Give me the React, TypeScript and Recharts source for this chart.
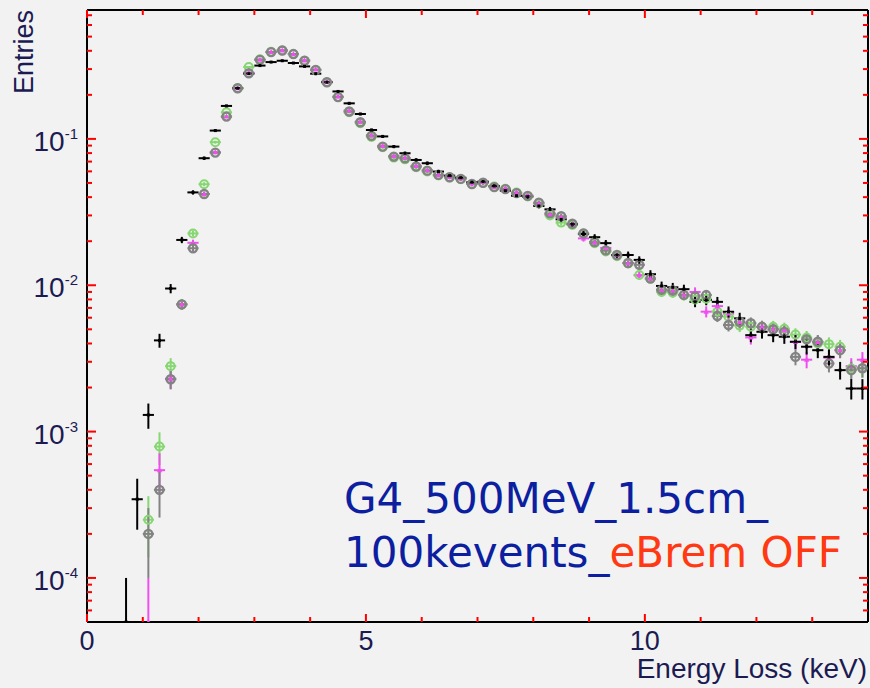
import React from "react";
import { ScatterChart, Scatter, XAxis, YAxis, ErrorBar } from "recharts";

// bin centres (keV), bin width 0.2
const BINS = [
  0.7, 0.9, 1.1, 1.3, 1.5, 1.7, 1.9, 2.1, 2.3, 2.5, 2.7, 2.9, 3.1, 3.3, 3.5,
  3.7, 3.9, 4.1, 4.3, 4.5, 4.7, 4.9, 5.1, 5.3, 5.5, 5.7, 5.9, 6.1, 6.3, 6.5,
  6.7, 6.9, 7.1, 7.3, 7.5, 7.7, 7.9, 8.1, 8.3, 8.5, 8.7, 8.9, 9.1, 9.3, 9.5,
  9.7, 9.9, 10.1, 10.3, 10.5, 10.7, 10.9, 11.1, 11.3, 11.5, 11.7, 11.9, 12.1,
  12.3, 12.5, 12.7, 12.9, 13.1, 13.3, 13.5, 13.7, 13.9,
];

const BLACK = [
  5e-5, 3.45e-4, 1.3e-3, 4.2e-3, 9.5e-3, 0.0204, 0.0431, 0.0738, 0.114, 0.168,
  0.222, 0.279, 0.317, 0.335, 0.342, 0.33, 0.313, 0.279, 0.244, 0.211, 0.175,
  0.148, 0.115, 0.104, 0.0886, 0.0798, 0.0718, 0.0682, 0.0598, 0.0561, 0.0543,
  0.0506, 0.0511, 0.0477, 0.0443, 0.0409, 0.0403, 0.0348, 0.033, 0.0282,
  0.0261, 0.0224, 0.0213, 0.0194, 0.0161, 0.0161, 0.0149, 0.0119, 0.00989,
  0.00968, 0.0094, 0.0077, 0.00793, 0.0077, 0.00659, 0.00594, 0.00456,
  0.00481, 0.00456, 0.00445, 0.00411, 0.0038, 0.0036, 0.00324, 0.00263,
  0.00197, 0.00197,
];

const GREEN = [
  null, null, 2.5e-4, 7.9e-4, 2.8e-3, 7.4e-3, 0.0226, 0.049, 0.095, 0.152,
  0.222, 0.31, 0.35, 0.394, 0.402, 0.38, 0.342, 0.296, 0.244, 0.193, 0.152,
  0.128, 0.103, 0.0876, 0.0745, 0.0725, 0.064, 0.0598, 0.0562, 0.0545, 0.053,
  0.049, 0.05, 0.0472, 0.0456, 0.043, 0.0404, 0.0362, 0.03, 0.0268, 0.0258,
  0.0226, 0.0194, 0.017, 0.0158, 0.0141, 0.01175, 0.0111, 0.009, 0.0089,
  0.0085, 0.008, 0.0081, 0.0066, 0.0061, 0.0053, 0.0052, 0.0052, 0.0052,
  0.00505, 0.0046, 0.0044, 0.004, 0.00396, 0.0038, 0.0027, 0.0027,
];

const MAGENTA = [
  null, null, 5e-5, 5.45e-4, 2.3e-3, 7.4e-3, 0.0195, 0.042, 0.081, 0.142,
  0.222, 0.283, 0.347, 0.392, 0.402, 0.38, 0.344, 0.298, 0.246, 0.195, 0.156,
  0.131, 0.106, 0.0896, 0.0765, 0.0742, 0.0652, 0.061, 0.0566, 0.0549,
  0.0536, 0.0496, 0.0505, 0.047, 0.0457, 0.0428, 0.041, 0.0362, 0.0306,
  0.0292, 0.0262, 0.0209, 0.0196, 0.018, 0.0161, 0.0142, 0.0117, 0.0111,
  0.0093, 0.0092, 0.0086, 0.009, 0.0066, 0.0072, 0.0064, 0.0056, 0.0044,
  0.0052, 0.005, 0.0049, 0.0041, 0.0031, 0.0041, 0.0032, 0.0036, 0.0028,
  0.0031,
];

const GRAY = [
  null, null, 2.0e-4, 4.0e-4, 2.28e-3, 7.4e-3, 0.0179, 0.042, 0.0806, 0.142,
  0.222, 0.281, 0.347, 0.392, 0.402, 0.38, 0.342, 0.296, 0.244, 0.193, 0.154,
  0.13, 0.105, 0.0886, 0.0757, 0.0738, 0.0648, 0.0607, 0.0568, 0.0547,
  0.0533, 0.0492, 0.0502, 0.0468, 0.0454, 0.0426, 0.0408, 0.0367, 0.031,
  0.0296, 0.0263, 0.0226, 0.0197, 0.0173, 0.0161, 0.0142, 0.0138, 0.0111,
  0.0093, 0.0092, 0.0086, 0.0084, 0.00857, 0.00616, 0.00535, 0.00563, 0.0055,
  0.0052, 0.005, 0.0048, 0.00324, 0.00427, 0.00411, 0.00292, 0.0036, 0.00263,
  0.00271,
];

const BIN_HALF = 0.1;
const PER_ENTRY = 5e-5; // weight of a single entry
const Y_MIN = 5e-5;
const Y_MAX = 0.76;
const X_TICKS = [0, 1, 2, 3, 4, 5, 6, 7, 8, 9, 10, 11, 12, 13];
const X_LABELED = [0, 5, 10];
const DECADES = [1e-5, 1e-4, 1e-3, 1e-2, 1e-1];
const MULTS = [1, 2, 3, 4, 5, 6, 7, 8, 9];
const Y_TICKS = DECADES.flatMap((d) => MULTS.map((m) => m * d)).filter(
  (v) => v > Y_MIN * 1.001 && v < Y_MAX
);

const LABEL_COLOR = "#1b1b52";
const FONT = "'Liberation Sans', Arial, Helvetica, sans-serif";
const TICK_COLOR = "red";

const toPoints = (vals: (number | null)[]) =>
  BINS.flatMap((x, i) => {
    const y = vals[i];
    if (y == null) return [];
    const err = Math.sqrt(y * PER_ENTRY);
    const low = Math.max(y - err, Y_MIN);
    return [{ x, y, ex: BIN_HALF, ey: [y - low, err] }];
  });

// ROOT-style ticks pointing into the frame
const XTick = (p: any) => {
  const { x, y, payload, side } = p;
  const v = payload.value;
  const major = X_LABELED.includes(v);
  const dir = side === "bottom" ? -1 : 1;
  return (
    <g>
      <line x1={x} x2={x} y1={y} y2={y + dir * (major ? 8 : 5)} stroke={TICK_COLOR} strokeWidth={2} />
      {side === "bottom" && major && (
        <text x={x} y={y + 28} textAnchor="middle" fontSize={27} fontFamily={FONT} fill={LABEL_COLOR}>
          {v}
        </text>
      )}
    </g>
  );
};

const YTick = (p: any) => {
  const { x, y, payload, side } = p;
  const v = payload.value;
  const lg = Math.log10(v);
  const exp = Math.round(lg);
  const major = Math.abs(lg - exp) < 1e-6;
  const dir = side === "left" ? 1 : -1;
  return (
    <g>
      <line x1={x} x2={x + dir * (major ? 9 : 5)} y1={y} y2={y} stroke={TICK_COLOR} strokeWidth={2} />
      {side === "left" && major && (
        <text x={x - 9} y={y + 12} textAnchor="end" fontSize={28} fontFamily={FONT} fill={LABEL_COLOR}>
          10
          <tspan dy={-12} fontSize={15}>
            {exp}
          </tspan>
        </text>
      )}
    </g>
  );
};

const SERIES = [
  {
    name: "green",
    vals: GREEN,
    color: "#86d672",
    shape: (p: any) => <circle cx={p.cx} cy={p.cy} r={4} fill="none" stroke="#86d672" strokeWidth={2} />,
  },
  {
    name: "magenta",
    vals: MAGENTA,
    color: "#f04ef0",
    shape: (p: any) => (
      <path
        d={`M${p.cx},${p.cy - 3} L${p.cx + 2.6},${p.cy + 2} L${p.cx - 2.6},${p.cy + 2} Z`}
        fill="#f04ef0"
      />
    ),
  },
  {
    name: "gray",
    vals: GRAY,
    color: "#838383",
    shape: (p: any) => <circle cx={p.cx} cy={p.cy} r={4} fill="none" stroke="#838383" strokeWidth={2.4} />,
  },
  {
    name: "black",
    vals: BLACK,
    color: "#000000",
    shape: (p: any) => <rect x={p.cx - 1.5} y={p.cy - 1.5} width={3} height={3} fill="#000" />,
  },
];

const AXIS_LINE = { stroke: "#000", strokeWidth: 2 };
const FRAME_POINTS = toPoints(BLACK);

export default function App() {
  return (
    <div
      style={{
        position: "fixed",
        left: 0,
        top: 0,
        width: 870,
        height: 688,
        background: "#f2f2f2",
      }}
    >
      <svg
        width={870}
        height={688}
        style={{ position: "absolute", left: 0, top: 0, pointerEvents: "none" }}
      >
        <text
          transform="rotate(-90)"
          x={-10}
          y={33}
          textAnchor="end"
          fontSize={27}
          fontFamily={FONT}
          fill={LABEL_COLOR}
        >
          Entries
        </text>
        <text x={867} y={678} textAnchor="end" fontSize={28} fontFamily={FONT} fill={LABEL_COLOR}>
          Energy Loss (keV)
        </text>
        <g fontFamily="'Comic Sans MS', 'DejaVu Sans', sans-serif" fontSize={42}>
          <text x={344} y={513} fill="#0c1fa0">
            G4_500MeV_1.5cm_
          </text>
          <text x={344} y={567} fill="#0c1fa0">
            100kevents_<tspan fill="#ff3a12">eBrem OFF</tspan>
          </text>
        </g>
      </svg>
      <div style={{ position: "absolute", left: 0, top: 0 }}>
        <ScatterChart width={870} height={688} margin={{ top: 9, right: 1, bottom: 0, left: 0 }}>
          <XAxis
            xAxisId="b"
            type="number"
            dataKey="x"
            domain={[0, 14]}
            ticks={X_TICKS}
            interval={0}
            allowDataOverflow
            height={66}
            tickSize={0}
            tickMargin={0}
            tickLine={false}
            axisLine={AXIS_LINE}
            tick={(p: any) => <XTick {...p} side="bottom" />}
          />
          <XAxis
            xAxisId="t"
            orientation="top"
            type="number"
            dataKey="x"
            domain={[0, 14]}
            ticks={X_TICKS}
            interval={0}
            allowDataOverflow
            height={1}
            tickSize={0}
            tickMargin={0}
            tickLine={false}
            axisLine={AXIS_LINE}
            tick={(p: any) => <XTick {...p} side="top" />}
          />
          <YAxis
            yAxisId="l"
            type="number"
            dataKey="y"
            scale="log"
            domain={[Y_MIN, Y_MAX]}
            ticks={Y_TICKS}
            interval={0}
            allowDataOverflow
            width={87}
            tickSize={0}
            tickMargin={0}
            tickLine={false}
            axisLine={AXIS_LINE}
            tick={(p: any) => <YTick {...p} side="left" />}
          />
          <YAxis
            yAxisId="r"
            orientation="right"
            type="number"
            dataKey="y"
            scale="log"
            domain={[Y_MIN, Y_MAX]}
            ticks={Y_TICKS}
            interval={0}
            allowDataOverflow
            width={1}
            tickSize={0}
            tickMargin={0}
            tickLine={false}
            axisLine={AXIS_LINE}
            tick={(p: any) => <YTick {...p} side="right" />}
          />
          <Scatter
            xAxisId="t"
            yAxisId="r"
            data={FRAME_POINTS}
            isAnimationActive={false}
            shape={() => <g />}
          />
          {SERIES.map((s) => (
            <Scatter
              key={s.name}
              xAxisId="b"
              yAxisId="l"
              data={toPoints(s.vals)}
              isAnimationActive={false}
              shape={s.shape}
            >
              <ErrorBar dataKey="ex" direction="x" width={0} stroke={s.color} strokeWidth={2} isAnimationActive={false} />
              <ErrorBar dataKey="ey" direction="y" width={0} stroke={s.color} strokeWidth={2} isAnimationActive={false} />
            </Scatter>
          ))}
        </ScatterChart>
      </div>
    </div>
  );
}
